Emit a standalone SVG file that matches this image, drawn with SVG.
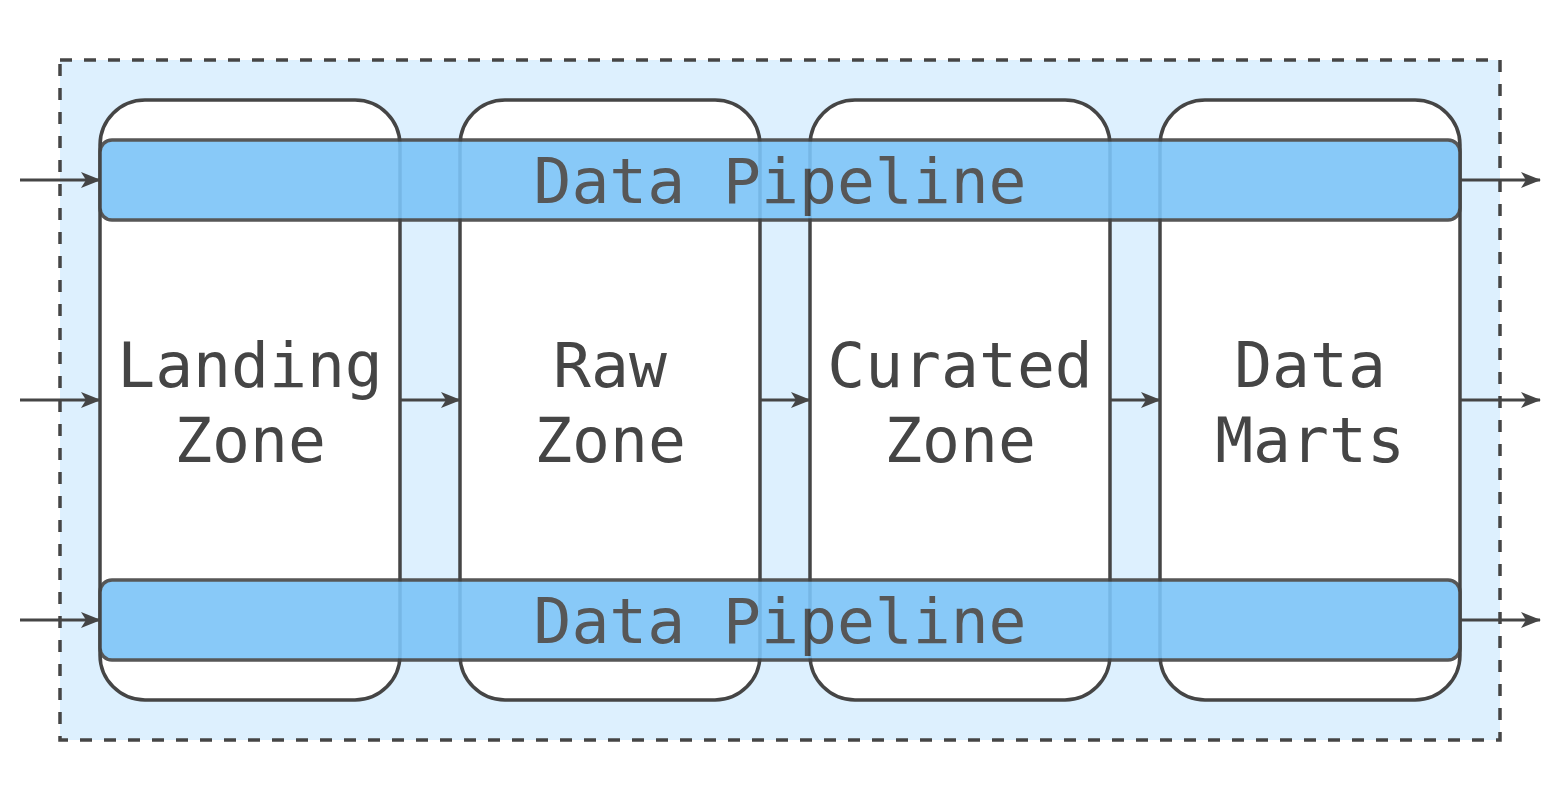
<svg xmlns="http://www.w3.org/2000/svg" width="1560" height="800" viewBox="0 0 1560 800">
<style>
.zone{fill:#ffffff;stroke:#454545;stroke-width:3.5}
.pipe{fill:#7cc4f8;stroke:#454545;stroke-width:3.5}
.lbl{font-family:"DejaVu Sans Mono","Liberation Mono",monospace;font-size:63px;fill:#454545;text-anchor:middle}
.conn{stroke:#454545;stroke-width:3;fill:none;marker-end:url(#arr)}
</style>
<defs>
<marker id="arr" viewBox="0 0 20 18" refX="19" refY="9" markerWidth="20" markerHeight="18" markerUnits="userSpaceOnUse" orient="auto">
<path d="M0,1 L20,9 L0,17 L5,9 Z" fill="#454545"/>
</marker>
</defs>
<rect width="1560" height="800" fill="#ffffff"/>
<g id="container">
<rect x="60" y="60" width="1440" height="680" fill="#ddf0fe" stroke="#454545" stroke-width="3.5" stroke-dasharray="12 12"/>
</g>
<g id="landing-zone"><rect class="zone" x="100" y="100" width="300" height="600" rx="45"/><text class="lbl" x="250" y="387">Landing</text><text class="lbl" x="250" y="462">Zone</text></g>
<g id="raw-zone"><rect class="zone" x="460" y="100" width="300" height="600" rx="45"/><text class="lbl" x="610" y="387">Raw</text><text class="lbl" x="610" y="462">Zone</text></g>
<g id="curated-zone"><rect class="zone" x="810" y="100" width="300" height="600" rx="45"/><text class="lbl" x="960" y="387">Curated</text><text class="lbl" x="960" y="462">Zone</text></g>
<g id="data-marts"><rect class="zone" x="1160" y="100" width="300" height="600" rx="45"/><text class="lbl" x="1310" y="387">Data</text><text class="lbl" x="1310" y="462">Marts</text></g>
<g id="pipeline-top" opacity="0.9"><rect class="pipe" x="100" y="140" width="1360" height="80" rx="12"/><text class="lbl" x="780" y="203">Data Pipeline</text></g>
<g id="pipeline-bottom" opacity="0.9"><rect class="pipe" x="100" y="580" width="1360" height="80" rx="12"/><text class="lbl" x="780" y="643">Data Pipeline</text></g>
<g id="connectors">
<line class="conn" x1="20" y1="180" x2="100" y2="180"/>
<line class="conn" x1="20" y1="400" x2="100" y2="400"/>
<line class="conn" x1="20" y1="620" x2="100" y2="620"/>
<line class="conn" x1="400" y1="400" x2="460" y2="400"/>
<line class="conn" x1="760" y1="400" x2="810" y2="400"/>
<line class="conn" x1="1110" y1="400" x2="1160" y2="400"/>
<line class="conn" x1="1460" y1="180" x2="1540" y2="180"/>
<line class="conn" x1="1460" y1="400" x2="1540" y2="400"/>
<line class="conn" x1="1460" y1="620" x2="1540" y2="620"/>
</g>
</svg>
